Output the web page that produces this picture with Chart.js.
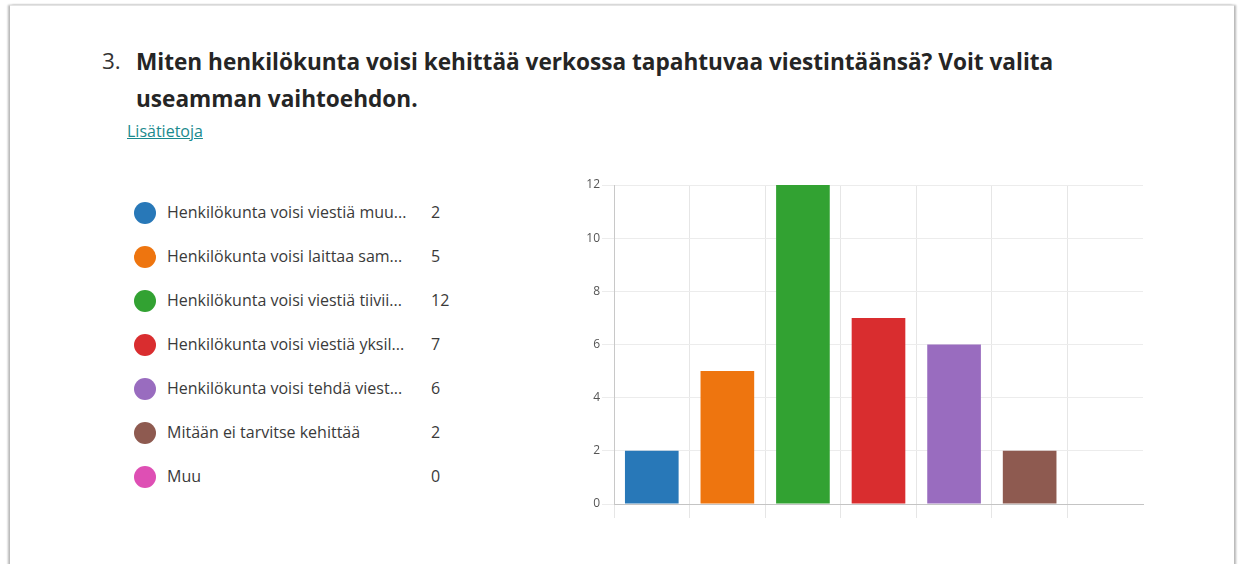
<!DOCTYPE html>
<html>
<head>
<meta charset="utf-8">
<script src="https://cdn.jsdelivr.net/npm/chart.js@4.4.0/dist/chart.umd.min.js"></script>
<style>
    html, body { margin: 0; padding: 0; background: #fff; }
    body { width: 1240px; height: 564px; overflow: hidden; position: relative; font-family: "Open Sans", "Noto Sans", sans-serif; }
    #card {
        position: absolute; left: 10px; top: 5px; width: 1224px; height: 600px;
        border-top: 1px solid #e4e4e4;
        box-shadow: -2px 0 2px #b8b8b8, 2px 0 2px #b8b8b8;
        background: #fff;
    }
    #num { position: absolute; left: 102px; top: 45px; font-size: 22.5px; color: #333; }
    #title { position: absolute; left: 136px; top: 43px; width: 1000px; font-size: 22.6px; font-weight: bold; color: #252525; line-height: 37px; }
    #more { position: absolute; left: 127px; top: 120px; font-size: 16px; color: #1a8a8e; text-decoration: underline; }
    .item { position: absolute; left: 134px; height: 24px; font-size: 16px; color: #3a3a3a; }
    .dot { position: absolute; left: 0; top: 1px; width: 22px; height: 22px; border-radius: 50%; }
    .lbl { position: absolute; left: 33px; top: 0px; white-space: nowrap; }
    .val { position: absolute; left: 297px; top: 0px; }
    #chart { position: absolute; left: 560px; top: 170px; }
</style>
</head>
<body>
<div id="card"></div>
<div id="num">3.</div>
<div id="title">Miten henkilökunta voisi kehittää verkossa tapahtuvaa viestintäänsä? Voit valita useamman vaihtoehdon.</div>
<div id="more">Lisätietoja</div>
<div id="legend"></div>
<canvas id="chart" width="588" height="348"></canvas>
<script>
// Vaihtoehdot (katkaistu kuten kuvassa)
const categories = [
    'Henkilökunta voisi viestiä muu...',
    'Henkilökunta voisi laittaa sam...',
    'Henkilökunta voisi viestiä tiivii...',
    'Henkilökunta voisi viestiä yksil...',
    'Henkilökunta voisi tehdä viest...',
    'Mitään ei tarvitse kehittää',
    'Muu'
];
const counts = [2, 5, 12, 7, 6, 2, 0];
const colors = ['#2878b8', '#ee750f', '#32a232', '#d92d2f', '#996cbf', '#8e5a50', '#de4fb4'];
const yTicks = [0, 2, 4, 6, 8, 10, 12];

function buildLegend() {
    const box = document.getElementById('legend');
    categories.forEach((name, i) => {
        let row = document.createElement('div');
        row.className = 'item';
        row.style.top = (201 + i * 44) + 'px';
        row.innerHTML = '<span class="dot" style="background:' + colors[i] + '"></span>' +
            '<span class="lbl">' + name + '</span><span class="val">' + counts[i] + '</span>';
        box.appendChild(row);
    });
}

window.onload = function () {
    buildLegend();

    var ctx = document.getElementById('chart').getContext('2d');

    var bars = new Chart(ctx, {
        type: 'bar',
        data: {
            labels: categories,
            datasets: [{
                data: counts,
                backgroundColor: colors,
                borderWidth: 0,
                barPercentage: 0.71,
                categoryPercentage: 1
            }]
        },
        options: {
            responsive: false,
            animation: false,
            devicePixelRatio: 1,
            layout: { padding: { top: 15, right: 5, left: 0, bottom: 0 } },
            plugins: { legend: { display: false }, tooltip: { enabled: false } },
            scales: {
                x: {
                    ticks: { display: false },
                    grid: {
                        offset: true,
                        tickLength: 14,
                        color: (c) => c.index === undefined ? 'rgba(0,0,0,0)' : '#e6e6e6'
                    },
                    border: { color: '#c4c4c4', width: 1 },
                    afterFit: (s) => { s.height = 14; }
                },
                y: {
                    min: 0,
                    max: 12,
                    afterBuildTicks: (s) => { s.ticks = yTicks.map(v => ({ value: v })); },
                    ticks: { color: '#555', font: { family: 'Open Sans', size: 12 }, padding: 2 },
                    grid: { color: '#ececec', tickLength: 12 },
                    border: { color: '#c8c8c8', width: 1 },
                    afterFit: (s) => { s.width = 54; }
                }
            }
        }
    });
};
</script>
</body>
</html>
